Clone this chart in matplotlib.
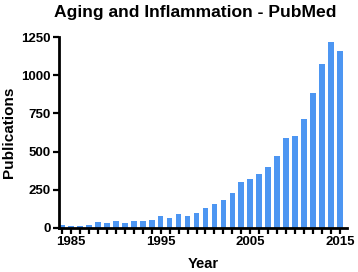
import matplotlib
matplotlib.use("Agg")
import matplotlib.pyplot as plt

years = list(range(1984, 2016))
publications = [22, 13, 13, 20, 39, 31, 46, 35, 44, 48, 50, 77, 63, 89, 77, 96,
                132, 158, 184, 226, 299, 323, 351, 399, 473, 587, 604, 713, 883,
                1071, 1219, 1156]
xtick_labels = [1985, 1995, 2005, 2015]
ytick_values = [0, 250, 500, 750, 1000, 1250]

plt.rcParams['font.family'] = ['Liberation Sans', 'DejaVu Sans']
plt.rcParams['font.weight'] = 'bold'

fig = plt.figure(figsize=(3.58, 2.72), dpi=100)
ax = fig.add_axes([59/358, 44/272, 288/358, 191/272])

ax.bar(years, publications, width=0.63, color='#4D96F2', edgecolor='none', zorder=2)

ax.set_xlim(1983.65, 2015.8)
ax.set_ylim(0, 1250)
ax.set_xticks(years)
ax.set_xticklabels([str(y) if y in xtick_labels else '' for y in years])
ax.set_yticks(ytick_values)
ax.set_yticklabels([str(v) for v in ytick_values])

for side in ['top', 'right']:
    ax.spines[side].set_visible(False)
for side in ['left', 'bottom']:
    ax.spines[side].set_linewidth(2.0)
    ax.spines[side].set_color('black')

ax.tick_params(axis='both', direction='out', length=4.5, width=1.6, color='black',
               labelsize=9.5, pad=1.5)
for lab in ax.get_xticklabels() + ax.get_yticklabels():
    lab.set_fontweight('bold')

ax.set_xlabel('Year', fontsize=10.5, fontweight='bold', labelpad=6)
ax.set_ylabel('Publications', fontsize=11, fontweight='bold', labelpad=4)

fig.text(195/358, 1 - 12/272, 'Aging and Inflammation - PubMed', ha='center', va='center',
         fontsize=12.6, fontweight='bold')

fig.savefig('out.png', dpi=100)
